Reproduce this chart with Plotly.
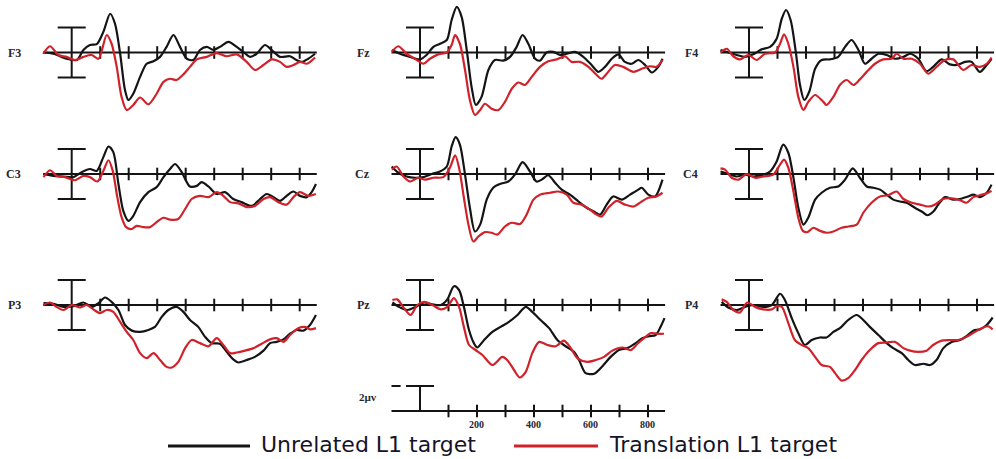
import plotly.graph_objects as go

# ---------------- data (ms, microvolts) ----------------
channels = ["F3", "Fz", "F4", "C3", "Cz", "C4", "P3", "Pz", "P4"]
series_names = ["Unrelated L1 target", "Translation L1 target"]
tick_ms = [100, 200, 300, 400, 500, 600, 700, 800]
cal_tick_labels = [200, 400, 600, 800]
axis_start_ms, axis_end_ms = -100, 860
scale_bar_uv = 2
cal_label = "2µv"

f3_unrel_ms = [-100,-64,-18,18,41,64,88,111,135,152,170,187,199,216,240,263,287,310,333,357,380,404,427,450,474,497,520,550,579,602,626,649,678,702,731,766,789,807,830,854]
f3_unrel_uv = [0,-0.1,-0.5,-0.6,0.2,0.6,0.67,1.65,3.1,2.3,-0.1,-3.0,-3.8,-3.3,-1.95,-0.9,-0.7,-0.35,0.45,1.4,0.45,-0.5,-0.6,0.2,0.45,0.2,0.45,0.85,0.45,0.05,-0.35,-0.1,0.6,0.2,-0.35,-0.3,-0.6,-0.75,-0.5,-0.1]
f3_trans_ms = [-100,-76,-47,-18,12,41,70,94,123,140,158,175,193,216,240,269,298,322,345,368,392,415,439,474,509,544,579,614,643,673,702,731,754,778,801,825,854]
f3_trans_uv = [-0.1,0.5,-0.2,-0.35,-0.6,-0.35,-0.2,-0.5,1.4,0.7,-1.15,-3.55,-4.6,-4.2,-3.6,-4.15,-3.3,-2.35,-2.1,-2.2,-1.75,-1.15,-0.55,-0.35,-0.05,-0.3,-0.15,-0.75,-1.4,-1.0,-0.55,-0.75,-1.15,-1.0,-0.75,-0.9,-0.4]

fz_unrel_ms = [-99,-70,-35,0,23,47,70,94,111,129,146,164,181,196,216,240,263,292,316,339,360,380,404,421,444,468,491,515,544,573,602,626,649,673,696,719,743,766,790,813,836,851]
fz_unrel_uv = [0.2,-0.1,-0.35,-0.55,-0.2,0.45,0.7,1.0,2.6,3.65,2.85,0.2,-2.75,-4.2,-3.55,-1.4,-0.6,-0.65,-0.35,0.45,1.4,0.7,-0.5,-0.65,0,0.05,-0.2,-0.1,0.05,-0.35,-1.0,-1.55,-1.15,-0.5,-0.15,-0.75,-0.9,-0.6,-1.0,-1.6,-1.15,-0.5]
fz_trans_ms = [-99,-76,-47,-18,12,35,64,94,111,123,140,158,175,193,211,228,251,275,298,322,345,368,392,421,450,480,509,532,561,591,620,637,655,684,713,749,778,807,830,851]
fz_trans_uv = [0.05,0.5,-0.1,-0.5,-0.9,-0.5,-0.15,0,0.6,1.4,0.7,-1.4,-3.8,-5.0,-4.6,-4.1,-4.5,-4.6,-3.95,-2.9,-2.4,-2.6,-1.95,-1.15,-0.7,-0.55,-0.3,-0.75,-0.75,-1.15,-1.8,-2.1,-1.7,-1.0,-1.15,-1.55,-1.3,-1.1,-1.15,-0.6]

f4_unrel_ms = [-100,-73,-43,-14,15,44,74,97,115,130,146,165,179,194,212,232,255,284,313,337,360,384,407,430,454,483,512,542,565,594,623,646,676,705,729,758,781,810,834,851]
f4_unrel_uv = [0.2,0,-0.2,-0.35,-0.15,0.25,0.45,1.1,2.7,3.4,2.6,-0.1,-2.6,-3.8,-3.1,-1.3,-0.6,-0.55,-0.35,0.45,1.0,0.2,-0.9,-0.5,-0.1,-0.2,-0.5,-0.35,-0.1,-0.5,-1.5,-1.15,-0.55,-0.95,-1.0,-0.75,-0.75,-1.55,-1.0,-0.5]
f4_trans_ms = [-100,-78,-55,-32,-2,27,56,91,109,123,138,156,173,191,208,232,261,272,296,319,343,366,389,413,442,471,500,518,542,571,600,629,658,687,717,752,781,810,834,851]
f4_trans_uv = [0,0.3,-0.3,-0.55,-0.2,-0.6,-0.1,0,0.7,1.45,0.7,-1.15,-3.55,-4.6,-3.95,-3.4,-3.95,-4.2,-3.55,-2.6,-2.2,-2.6,-2.15,-1.55,-0.9,-0.55,-0.5,-0.1,-0.5,-0.5,-0.9,-1.7,-1.15,-0.6,-0.55,-1.4,-1.0,-1.15,-0.9,-0.4]

c3_unrel_ms = [-99,-64,-29,6,35,64,88,111,129,146,164,181,199,216,240,269,298,322,345,363,386,415,439,456,480,509,538,567,596,632,661,684,708,731,754,778,801,825,842,857]
c3_unrel_uv = [0,-0.15,-0.2,-0.25,0.15,0.4,0.25,1.35,2.2,1.75,-0.8,-2.95,-3.75,-3.35,-2.25,-1.45,-1.05,-0.25,0.4,0.8,0.15,-1.0,-0.95,-0.65,-1.0,-1.6,-1.45,-2.0,-2.25,-2.55,-2.0,-1.6,-1.85,-2.15,-1.75,-1.4,-1.75,-1.85,-1.45,-0.8]
c3_trans_ms = [-99,-76,-53,-23,12,41,64,90,111,129,144,160,175,191,211,228,251,275,298,322,345,374,398,421,450,480,509,532,556,585,614,643,673,696,725,754,778,801,830,857]
c3_trans_uv = [-0.25,0.3,-0.15,-0.25,-0.5,-0.15,-0.25,-0.6,0.25,1.1,0.25,-1.85,-3.45,-4.25,-4.4,-4.15,-4.25,-4.25,-3.85,-3.5,-3.65,-3.6,-2.8,-2.0,-1.75,-1.85,-1.45,-1.75,-2.25,-2.35,-2.65,-2.55,-2.0,-1.85,-2.25,-2.45,-1.85,-1.45,-1.75,-1.6]

cz_unrel_ms = [-99,-76,-47,-18,12,41,70,94,111,125,140,158,175,193,211,234,257,281,310,333,360,386,409,427,450,474,497,526,556,585,614,632,655,678,708,737,766,778,801,825,836,851]
cz_unrel_uv = [0.6,0.1,-0.2,-0.3,-0.25,0,0.2,0.6,2.2,2.95,2.35,-0.05,-2.7,-4.6,-4.05,-2.05,-1.1,-0.8,-0.6,-0.05,0.95,0.2,-0.6,-0.45,-0.1,-0.7,-1.25,-1.65,-2.2,-2.7,-3.05,-3.25,-2.45,-1.8,-2.05,-1.65,-1.25,-1.1,-1.65,-1.8,-1.4,-0.45]
cz_trans_ms = [-99,-82,-58,-35,-6,18,47,82,105,123,137,154,170,187,205,228,251,271,298,322,351,374,398,421,456,485,515,538,567,596,620,637,661,690,719,749,778,801,830,851]
cz_trans_uv = [0.35,0.6,-0.2,-0.6,-0.3,-0.45,-0.3,-0.25,0.5,1.5,0.5,-1.9,-4.05,-5.4,-5.0,-4.65,-4.7,-4.85,-4.2,-3.9,-4.0,-3.25,-2.05,-1.65,-1.5,-1.4,-1.65,-2.3,-2.45,-2.85,-3.25,-3.4,-2.7,-2.15,-2.45,-2.6,-2.2,-1.9,-1.8,-1.5]

c4_unrel_ms = [-100,-73,-43,-14,15,50,74,97,120,138,156,173,191,208,232,255,284,313,337,364,389,413,436,460,483,506,530,553,582,606,626,647,664,688,717,740,769,787,810,834,851]
c4_unrel_uv = [0.2,0,-0.2,-0.05,-0.2,-0.05,0.2,1.0,2.35,1.7,-0.3,-2.7,-4.05,-3.5,-2.05,-1.5,-1.1,-1.0,-0.45,0.45,-0.3,-1.0,-1.1,-1.25,-1.65,-2.05,-2.2,-2.3,-2.7,-3.0,-3.3,-3.0,-2.45,-1.85,-2.05,-2.0,-1.8,-1.65,-1.85,-1.5,-0.85]
c4_trans_ms = [-100,-84,-61,-37,-8,21,50,85,109,123,138,156,173,189,205,226,249,273,296,325,349,378,401,430,460,489,518,542,571,600,629,652,681,711,740,763,787,810,834,851]
c4_trans_uv = [0.45,0.35,-0.3,-0.45,0,-0.3,-0.2,-0.05,0.75,1.15,0.5,-1.4,-3.5,-4.55,-4.65,-4.3,-4.55,-4.7,-4.6,-4.3,-4.2,-4.05,-3.1,-2.3,-1.8,-1.7,-1.4,-2.0,-2.3,-2.45,-2.6,-2.45,-2.0,-1.95,-2.1,-2.3,-1.85,-1.7,-1.55,-1.35]

p3_unrel_ms = [-99,-64,-29,6,41,70,94,117,140,164,187,211,240,269,292,316,339,368,392,415,444,468,491,520,544,567,585,614,643,673,696,719,743,766,789,813,836,857]
p3_unrel_uv = [0.15,0.1,-0.15,-0.1,0.2,-0.15,0.15,0.6,0.25,-0.4,-1.6,-2.05,-2.15,-2.0,-1.75,-0.95,-0.4,-0.15,-0.55,-1.2,-1.75,-2.55,-3.05,-3.1,-3.75,-4.35,-4.6,-4.4,-4.15,-3.65,-3.05,-2.95,-2.75,-2.3,-2.0,-2.05,-1.6,-0.8]
p3_trans_ms = [-99,-76,-53,-29,0,29,53,76,99,123,146,170,193,216,240,263,287,310,333,351,374,398,421,450,480,509,532,556,579,608,638,667,696,719,743,766,795,819,836,857]
p3_trans_uv = [0,0.2,-0.15,-0.4,0,-0.2,0,-0.35,-0.65,-0.4,-0.55,-1.35,-2.15,-2.8,-3.85,-4.25,-3.85,-4.4,-4.95,-5.0,-4.55,-3.45,-2.8,-3.05,-3.3,-2.65,-3.2,-3.85,-3.8,-3.65,-3.45,-3.1,-2.75,-2.65,-2.95,-2.4,-1.85,-1.75,-1.95,-1.85]

pz_unrel_ms = [-97,-74,-44,-15,14,43,73,96,119,137,154,172,189,201,225,254,283,312,342,371,394,423,453,482,511,540,558,581,611,640,669,698,728,757,780,804,827,844,858]
pz_unrel_uv = [0.2,-0.15,-0.4,-0.15,0.2,0.05,0,0.45,1.5,1.2,-0.15,-2.0,-3.05,-3.4,-2.8,-2.15,-1.75,-1.35,-0.8,-0.15,-0.55,-1.2,-1.85,-2.8,-3.3,-3.75,-4.4,-5.45,-5.5,-4.9,-4.15,-3.6,-3.45,-3.05,-2.65,-2.5,-2.4,-1.75,-1.05]
pz_trans_ms = [-97,-80,-56,-33,-9,14,43,73,96,119,137,154,172,195,219,254,289,306,330,350,371,394,418,447,477,505,529,552,587,617,646,675,710,740,763,786,810,833,856]
pz_trans_uv = [0.4,0.45,-0.25,-0.8,0,0.25,0,-0.35,-0.15,0.55,-0.15,-1.75,-3.2,-3.6,-4.0,-4.8,-4.15,-4.4,-5.2,-5.8,-5.35,-3.85,-2.95,-3.2,-3.3,-2.85,-3.45,-4.25,-4.55,-4.4,-4.15,-3.65,-3.4,-3.6,-3.1,-2.65,-2.25,-2.3,-2.3]

p4_unrel_ms = [-96,-73,-43,-14,15,50,80,109,126,150,173,196,220,249,272,296,319,348,378,401,424,454,483,506,536,559,582,612,635,658,682,711,740,763,787,810,834,855]
p4_unrel_uv = [0.25,-0.2,-0.4,-0.15,0,-0.15,0,0.9,0.4,-1.05,-2.25,-3.2,-2.8,-2.6,-2.6,-2.15,-1.85,-1.2,-0.8,-1.2,-1.75,-2.4,-3.05,-3.45,-3.85,-4.4,-4.8,-4.7,-4.8,-4.4,-3.45,-2.95,-2.8,-2.5,-2.05,-1.95,-1.6,-1.0]
p4_trans_ms = [-96,-78,-55,-32,-6,21,50,80,97,115,138,161,185,208,232,255,284,302,325,348,372,395,424,454,483,512,542,565,594,623,646,676,705,734,763,793,822,839,855]
p4_trans_uv = [0.45,0.25,-0.4,-0.6,0.2,-0.15,-0.35,-0.35,-0.1,-0.15,-1.45,-2.8,-3.2,-3.45,-4.15,-4.8,-4.95,-5.45,-6.05,-5.85,-5.2,-4.4,-3.6,-3.05,-3.0,-2.95,-3.45,-3.65,-3.75,-3.65,-3.2,-2.85,-2.8,-2.8,-2.55,-2.15,-1.8,-1.7,-1.95]

unrel = [(f3_unrel_ms, f3_unrel_uv), (fz_unrel_ms, fz_unrel_uv), (f4_unrel_ms, f4_unrel_uv),
         (c3_unrel_ms, c3_unrel_uv), (cz_unrel_ms, cz_unrel_uv), (c4_unrel_ms, c4_unrel_uv),
         (p3_unrel_ms, p3_unrel_uv), (pz_unrel_ms, pz_unrel_uv), (p4_unrel_ms, p4_unrel_uv)]
trans = [(f3_trans_ms, f3_trans_uv), (fz_trans_ms, fz_trans_uv), (f4_trans_ms, f4_trans_uv),
         (c3_trans_ms, c3_trans_uv), (cz_trans_ms, cz_trans_uv), (c4_trans_ms, c4_trans_uv),
         (p3_trans_ms, p3_trans_uv), (pz_trans_ms, pz_trans_uv), (p4_trans_ms, p4_trans_uv)]

# ---------------- layout geometry ----------------
W, H = 996, 459
PX_PER_MS = 0.285
PX_PER_UV = 12.5
X_RANGE = [-105, 865]
col_zero_px = [71.7, 420.0, 749.0]
row_base_px = [52.5, 174.0, 305.0]
row_yrange = [[-5.6, 4.1], [-5.6, 4.1], [-6.4, 4.0]]
cal_base_px = 411.0
cal_yrange = [-1.6, 2.4]

BLACK = "#141414"
RED = "#d0222b"
LW = 2
CURVE_W = 2.2

fig = go.Figure()
layout = {}


def add_axes(k, zero_px, base_px, yr):
    x0 = (zero_px + X_RANGE[0] * PX_PER_MS) / W
    x1 = (zero_px + X_RANGE[1] * PX_PER_MS) / W
    top = base_px - yr[1] * PX_PER_UV
    bot = base_px - yr[0] * PX_PER_UV
    xn = "xaxis" if k == 1 else f"xaxis{k}"
    yn = "yaxis" if k == 1 else f"yaxis{k}"
    xr = "x" if k == 1 else f"x{k}"
    yrf = "y" if k == 1 else f"y{k}"
    layout[xn] = dict(domain=[x0, x1], range=X_RANGE, visible=False, anchor=yrf, fixedrange=True)
    layout[yn] = dict(domain=[1 - bot / H, 1 - top / H], range=yr, visible=False, anchor=xr, fixedrange=True)
    return xr, yrf


def add_axis_line(xr, yr):
    fig.add_trace(go.Scatter(x=[axis_start_ms, axis_end_ms], y=[0, 0], mode="lines",
                             line=dict(color=BLACK, width=LW), xaxis=xr, yaxis=yr,
                             showlegend=False, hoverinfo="skip"))
    fig.add_trace(go.Scatter(x=tick_ms, y=[0] * len(tick_ms), mode="markers",
                             marker=dict(symbol="line-ns", size=9, line=dict(color=BLACK, width=LW)),
                             xaxis=xr, yaxis=yr, showlegend=False, hoverinfo="skip", cliponaxis=False))


annotations = []
for i, ch in enumerate(channels):
    r, c = divmod(i, 3)
    xr, yr = add_axes(i + 1, col_zero_px[c], row_base_px[r], row_yrange[r])
    add_axis_line(xr, yr)
    # amplitude scale bar at 0 ms
    fig.add_trace(go.Scatter(x=[0, 0], y=[-scale_bar_uv, scale_bar_uv], mode="lines+markers",
                             line=dict(color=BLACK, width=LW),
                             marker=dict(symbol="line-ew", size=20, line=dict(color=BLACK, width=LW)),
                             xaxis=xr, yaxis=yr, showlegend=False, hoverinfo="skip", cliponaxis=False))
    ux, uy = unrel[i]
    tx, ty = trans[i]
    fig.add_trace(go.Scatter(x=ux, y=uy, mode="lines", name=series_names[0],
                             line=dict(color=BLACK, width=CURVE_W, shape="spline", smoothing=0.8),
                             xaxis=xr, yaxis=yr, showlegend=False))
    fig.add_trace(go.Scatter(x=tx, y=ty, mode="lines", name=series_names[1],
                             line=dict(color=RED, width=CURVE_W, shape="spline", smoothing=0.8),
                             xaxis=xr, yaxis=yr, showlegend=False))
    annotations.append(dict(text=f"<b>{ch}</b>", x=axis_start_ms, y=0, xref=xr, yref=yr,
                            xanchor="right", yanchor="middle", xshift=-20, showarrow=False,
                            font=dict(family="Liberation Serif", size=12, color="#262633")))

# calibration axis (under Pz)
xr, yr = add_axes(10, col_zero_px[1], cal_base_px, cal_yrange)
add_axis_line(xr, yr)
fig.add_trace(go.Scatter(x=[0, 0], y=[0, scale_bar_uv], mode="lines", line=dict(color=BLACK, width=LW),
                         xaxis=xr, yaxis=yr, showlegend=False, hoverinfo="skip"))
fig.add_trace(go.Scatter(x=[0], y=[scale_bar_uv], mode="markers",
                         marker=dict(symbol="line-ew", size=20, line=dict(color=BLACK, width=LW)),
                         xaxis=xr, yaxis=yr, showlegend=False, hoverinfo="skip", cliponaxis=False))
fig.add_trace(go.Scatter(x=[axis_start_ms, -68], y=[scale_bar_uv, scale_bar_uv], mode="lines",
                         line=dict(color=BLACK, width=LW), xaxis=xr, yaxis=yr,
                         showlegend=False, hoverinfo="skip"))
annotations.append(dict(text=f"<b>{cal_label}</b>", x=axis_start_ms, y=scale_bar_uv / 2 + 0.1,
                        xref=xr, yref=yr, xanchor="right", yanchor="middle", xshift=-13,
                        showarrow=False, font=dict(family="Liberation Serif", size=11, color="#262633")))
for v in cal_tick_labels:
    annotations.append(dict(text=f"<b>{v}</b>", x=v, y=-1.05, xref=xr, yref=yr,
                            xanchor="center", yanchor="middle", showarrow=False,
                            font=dict(family="Liberation Serif", size=10, color="#262633")))

# legend (drawn manually to get long line keys)
legend_y = 1 - 446 / H
shapes = [
    dict(type="line", xref="paper", yref="paper", x0=168 / W, x1=250 / W, y0=legend_y, y1=legend_y,
         line=dict(color=BLACK, width=3)),
    dict(type="line", xref="paper", yref="paper", x0=514 / W, x1=598 / W, y0=legend_y, y1=legend_y,
         line=dict(color=RED, width=3)),
]
annotations.append(dict(text=series_names[0], x=259 / W, y=1 - 444 / H, xref="paper", yref="paper",
                        xanchor="left", yanchor="middle", showarrow=False,
                        font=dict(family="DejaVu Sans", size=22, color="#14142a")))
annotations.append(dict(text=series_names[1], x=607 / W, y=1 - 444 / H, xref="paper", yref="paper",
                        xanchor="left", yanchor="middle", showarrow=False,
                        font=dict(family="DejaVu Sans", size=22, color="#14142a")))

fig.update_layout(width=W, height=H, margin=dict(l=0, r=0, t=0, b=0),
                  paper_bgcolor="white", plot_bgcolor="rgba(0,0,0,0)",
                  showlegend=False, annotations=annotations, shapes=shapes, **layout)

fig.write_html("out.html", config={"displayModeBar": False, "staticPlot": True},
               post_script="document.body.style.margin='0';document.body.style.overflow='hidden';")
